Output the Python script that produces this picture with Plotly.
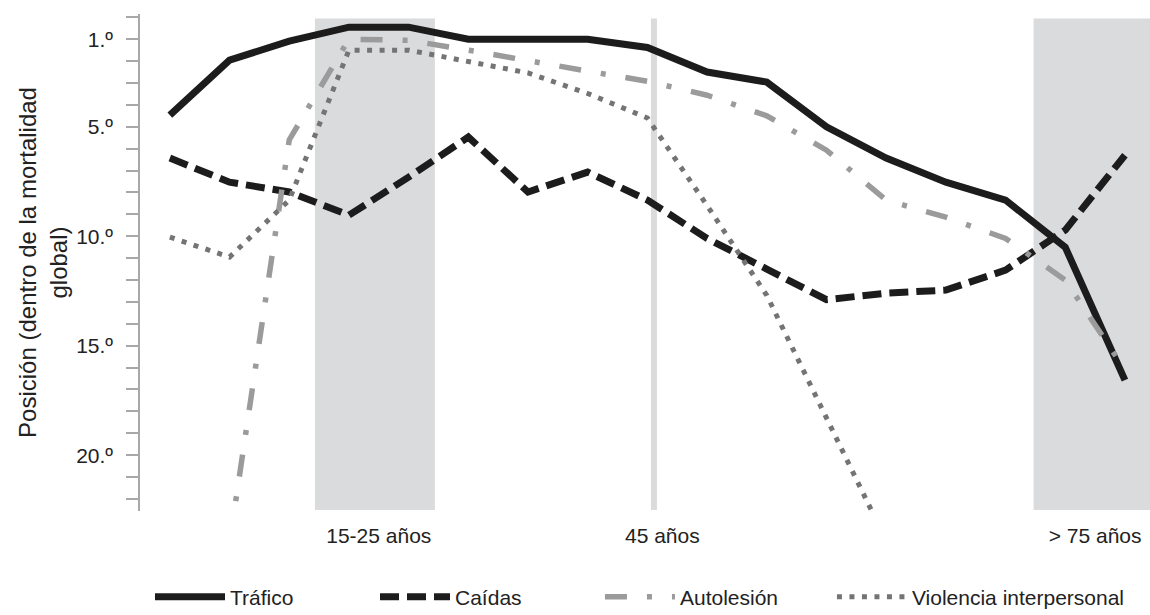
import plotly.graph_objects as go

# ---- data (rank within global mortality; lower number = higher position) ----
age_idx = list(range(17))
trafico = [4.47, 1.96, 1.09, 0.45, 0.45, 1.0, 1.0, 1.0, 1.38, 2.5, 2.96, 5.0, 6.43, 7.53, 8.35, 10.5, 16.57]
caidas = [6.43, 7.53, 7.98, 9.04, 7.3, 5.47, 7.98, 7.07, 8.35, 10.1, 11.5, 12.9, 12.6, 12.46, 11.55, 9.72, 6.3]
autolesion = [None, 24.0, 5.6, 1.0, 1.05, 1.5, 2.0, 2.46, 2.92, 3.56, 4.5, 6.07, 8.35, 9.13, 10.1, 12.0, 16.1]
violencia = [10.04, 10.95, 8.35, 1.5, 1.5, 2.0, 2.54, 3.48, 4.6, 8.6, 12.7, 18.3, 23.9, None, None, None, None]

series_names = ["Tráfico", "Caídas", "Autolesión", "Violencia interpersonal"]

y_minor_vals = list(range(0, 23))
y_label_vals = [1, 5, 10, 15, 20]
y_label_text = ["1.º", "5.º", "10.º", "15.º", "20.º"]

x_label_vals = [3.5, 8.25, 15.5]
x_label_text = ["15-25 años", "45 años", "> 75 años"]

band_15_25 = (2.43, 4.44)
line_45 = 8.11
band_75 = (14.47, 16.42)

# ---- styling ----
FONT = "Liberation Sans, Arial, sans-serif"
SHADE = "#dadbdd"
AXIS_GREY = "#a8a8a8"
TEXT = "#222222"
X_RANGE = [-0.5, 16.42]
Y_RANGE = [22.55, -0.15]
LEGEND_X = [0.0099, 0.2327, 0.4554, 0.6851]
LEGEND_Y = 0.029  # container coordinates

fig = go.Figure()
fig.add_trace(go.Scatter(x=age_idx, y=trafico, mode="lines", name=series_names[0], legend="legend",
                         showlegend=True, line=dict(color="#1c1c1c", width=7)))
fig.add_trace(go.Scatter(x=age_idx, y=caidas, mode="lines", name=series_names[1], legend="legend2",
                         showlegend=True, line=dict(color="#1c1c1c", width=7, dash="19px,8px")))
fig.add_trace(go.Scatter(x=age_idx, y=autolesion, mode="lines", name=series_names[2], legend="legend3",
                         showlegend=True, line=dict(color="#9b9b9b", width=5.5, dash="22px,20px,5px,20px")))
fig.add_trace(go.Scatter(x=age_idx, y=violencia, mode="lines", name=series_names[3], legend="legend4",
                         showlegend=True, line=dict(color="#747474", width=5, dash="5px,7.5px")))

tick_text_all = [y_label_text[y_label_vals.index(v)] if v in y_label_vals else "" for v in y_minor_vals]


def legend_box(xpos):
    return dict(orientation="h", x=xpos, y=LEGEND_Y, xanchor="left", yanchor="middle",
                yref="container",
                font=dict(family=FONT, size=21, color=TEXT), itemwidth=70,
                bgcolor="rgba(0,0,0,0)", borderwidth=0)


fig.update_layout(
    width=1150, height=615,
    showlegend=True,
    margin=dict(l=140, r=0, t=14, b=104),
    plot_bgcolor="white", paper_bgcolor="white",
    shapes=[
        dict(type="rect", xref="x", yref="y", x0=band_15_25[0], x1=band_15_25[1], y0=22.5, y1=0.05,
             fillcolor=SHADE, line=dict(width=0), layer="below"),
        dict(type="rect", xref="x", yref="y", x0=band_75[0], x1=band_75[1], y0=22.5, y1=0.05,
             fillcolor=SHADE, line=dict(width=0), layer="below"),
        dict(type="line", xref="x", yref="y", x0=line_45, x1=line_45, y0=22.5, y1=0.05,
             line=dict(color=SHADE, width=6), layer="below"),
    ],
    xaxis=dict(range=X_RANGE, showgrid=False, zeroline=False, showline=False, ticks="",
               automargin=False, ticklabeloverflow="allow", ticklabelstandoff=10,
               tickmode="array", tickvals=x_label_vals, ticktext=x_label_text,
               tickfont=dict(family=FONT, size=21, color=TEXT)),
    yaxis=dict(range=Y_RANGE, showgrid=False, zeroline=False, showline=True, automargin=False,
               linecolor=AXIS_GREY, linewidth=1.5,
               tickmode="array", tickvals=y_minor_vals, ticktext=tick_text_all,
               ticks="outside", ticklen=12, tickwidth=1.5, tickcolor=AXIS_GREY,
               ticklabelstandoff=9,
               tickfont=dict(family=FONT, size=21, color=TEXT),
               title=dict(text="Posición (dentro de la mortalidad<br>global)", standoff=2,
                          font=dict(family=FONT, size=24, color=TEXT))),
    yaxis2=dict(range=Y_RANGE, overlaying="y", anchor="x", side="left", automargin=False,
                showgrid=False, zeroline=False, showline=False, showticklabels=False,
                tickmode="array", tickvals=y_minor_vals,
                ticks="inside", ticklen=8, tickwidth=1.5, tickcolor=AXIS_GREY),
    legend=legend_box(LEGEND_X[0]),
    legend2=legend_box(LEGEND_X[1]),
    legend3=legend_box(LEGEND_X[2]),
    legend4=legend_box(LEGEND_X[3]),
)

fig.write_html("out.html", config={"displayModeBar": False},
               post_script="document.body.style.margin='0';")
